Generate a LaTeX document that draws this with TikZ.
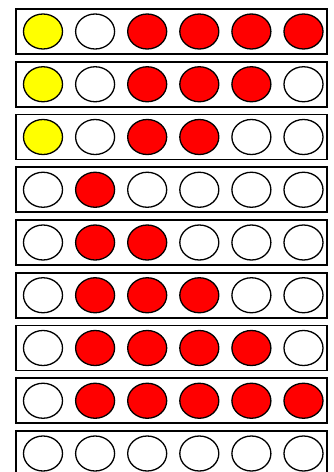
\documentclass[tikz,border=0pt]{standalone}
\usepackage{xcolor}
\usepackage{tikz}
\usetikzlibrary{shapes.geometric}
\definecolor{beadred}{RGB}{255,0,0}
\definecolor{beadyellow}{RGB}{255,255,0}
\tikzset{
  rowbox/.style={draw=black, line width=1.6pt, fill=white,
    minimum width=311pt, minimum height=45pt, inner sep=0pt},
  bead/.style={ellipse, draw=black, line width=1.3pt,
    minimum width=39pt, minimum height=35pt, inner sep=0pt}
}
\begin{document}
\begin{tikzpicture}[x=1pt,y=-1pt]
\useasboundingbox (0,0) rectangle (333,472);
\foreach \r/\cols in {
  1/{beadyellow,white,beadred,beadred,beadred,beadred},
  2/{beadyellow,white,beadred,beadred,beadred,white},
  3/{beadyellow,white,beadred,beadred,white,white},
  4/{white,beadred,white,white,white,white},
  5/{white,beadred,beadred,white,white,white},
  6/{white,beadred,beadred,beadred,white,white},
  7/{white,beadred,beadred,beadred,beadred,white},
  8/{white,beadred,beadred,beadred,beadred,beadred},
  9/{white,white,white,white,white,white}} {
  \node[rowbox] (row\r) at (171.5,{31.5+(\r-1)*52.75}) {};
  \foreach \c [count=\i] in \cols
    \node[bead, fill=\c] (bead\r-\i) at ({43+(\i-1)*52.1},{31.5+(\r-1)*52.75}) {};
}
\end{tikzpicture}
\end{document}
